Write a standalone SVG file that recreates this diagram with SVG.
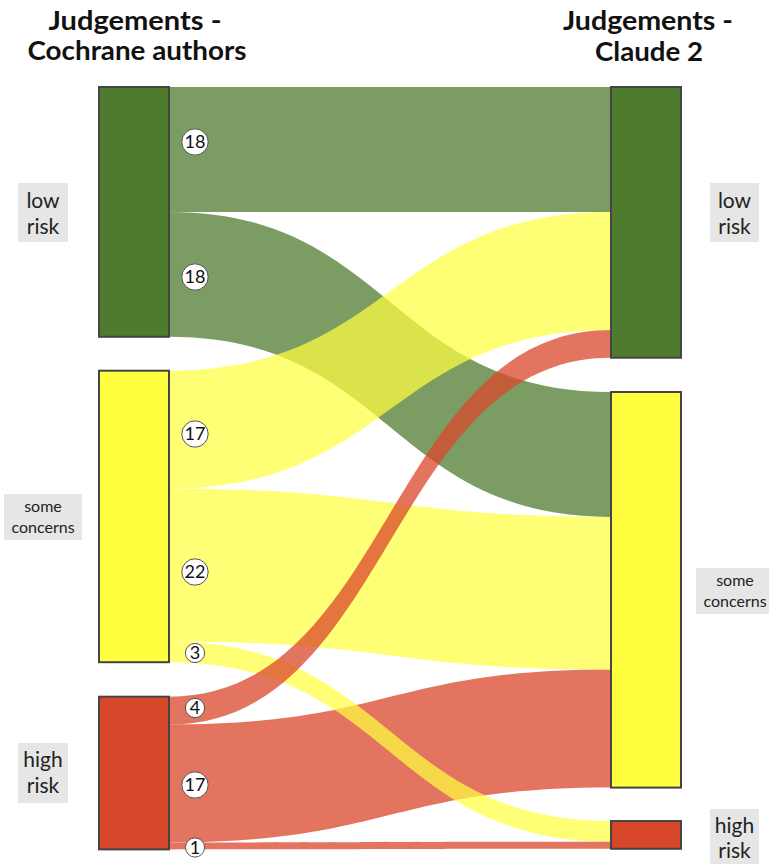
<svg xmlns="http://www.w3.org/2000/svg" width="769" height="864" viewBox="0 0 769 864">
<style>
  .title { font-family: Lato, "Liberation Sans", sans-serif; font-weight: 700; font-size: 27px; fill: #111; text-anchor: middle; }
  .lbl { font-family: Lato, "Liberation Sans", sans-serif; font-size: 21px; fill: #222; text-anchor: middle; }
  .lbls { font-family: Lato, "Liberation Sans", sans-serif; font-size: 16px; fill: #222; text-anchor: middle; }
  .box { fill: #e6e6e6; }
  .node { stroke: #444; stroke-width: 2; }
  .g { fill: #4f7b2f; }
  .y { fill: #ffff40; }
  .r { fill: #d9472b; }
  .lg { fill: #4f7b2f; fill-opacity: 0.75; }
  .ly { fill: #ffff40; fill-opacity: 0.72; }
  .lr { fill: #d9472b; fill-opacity: 0.75; }
  .badge { fill: #fff; stroke: #555; stroke-width: 1; }
  .num { font-family: Lato, "Liberation Sans", sans-serif; font-size: 18px; fill: #111; text-anchor: middle; }
</style>
<rect width="769" height="864" fill="#fff"/>
<g id="titles">
  <text class="title" x="135" y="30" textLength="173" lengthAdjust="spacingAndGlyphs">Judgements -</text>
  <text class="title" x="137" y="60" textLength="219" lengthAdjust="spacingAndGlyphs">Cochrane authors</text>
  <text class="title" x="648" y="30" textLength="170" lengthAdjust="spacingAndGlyphs">Judgements -</text>
  <text class="title" x="649" y="61" textLength="108" lengthAdjust="spacingAndGlyphs">Claude 2</text>
</g>
<g id="connectors">
  <path class="lg" d="M169,87 C390,87 390,87 611,87 L611,211.9 C390,211.9 390,211.9 169,211.9 Z"/>
  <path class="lg" d="M169,211.9 C390,211.9 390,392 611,392 L611,516.9 C390,516.9 390,336.8 169,336.8 Z"/>
  <path class="lr" d="M169,724.5 C390,724.5 390,669.6 611,669.6 L611,787.6 C390,787.6 390,842.5 169,842.5 Z"/>
  <path class="ly" d="M169,370.7 C390,370.7 390,211.9 611,211.9 L611,329.9 C390,329.9 390,488.7 169,488.7 Z"/>
  <path class="ly" d="M169,488.7 C390,488.7 390,516.9 611,516.9 L611,669.6 C390,669.6 390,641.4 169,641.4 Z"/>
  <path class="ly" d="M169,641.4 C390,641.4 390,821 611,821 L611,841.8 C390,841.8 390,662.2 169,662.2 Z"/>
  <path class="lr" d="M169,696.7 C390,696.7 390,329.9 611,329.9 L611,357.7 C390,357.7 390,724.5 169,724.5 Z"/>
  <path class="lr" d="M169,842.5 C390,842.5 390,841.8 611,841.8 L611,848.7 C390,848.7 390,849.4 169,849.4 Z"/>
</g>
<g id="node-left-low">
  <rect class="node g" x="99" y="87" width="70" height="249.8"/>
  <rect class="box" x="18" y="183" width="50" height="59"/>
  <text class="lbl" x="43" y="208">low</text>
  <text class="lbl" x="43" y="234">risk</text>
</g>
<g id="node-left-some">
  <rect class="node y" x="99" y="370.7" width="70" height="291.5"/>
  <rect class="box" x="4" y="494" width="78" height="46"/>
  <text class="lbls" x="43" y="512">some</text>
  <text class="lbls" x="43" y="533">concerns</text>
</g>
<g id="node-left-high">
  <rect class="node r" x="99" y="696.7" width="70" height="152.7"/>
  <rect class="box" x="18" y="743" width="50" height="60"/>
  <text class="lbl" x="43" y="767">high</text>
  <text class="lbl" x="43" y="793">risk</text>
</g>
<g id="node-right-low">
  <rect class="node g" x="611" y="87" width="70" height="270.7"/>
  <rect class="box" x="710" y="183" width="49" height="59"/>
  <text class="lbl" x="734.5" y="208">low</text>
  <text class="lbl" x="734.5" y="234">risk</text>
</g>
<g id="node-right-some">
  <rect class="node y" x="611" y="392" width="70" height="395.6"/>
  <rect class="box" x="696" y="568" width="78" height="46"/>
  <text class="lbls" x="735" y="586">some</text>
  <text class="lbls" x="735" y="607">concerns</text>
</g>
<g id="node-right-high">
  <rect class="node r" x="611" y="821" width="70" height="27.8"/>
  <rect class="box" x="710" y="809" width="49" height="60"/>
  <text class="lbl" x="734.5" y="833">high</text>
  <text class="lbl" x="734.5" y="858">risk</text>
</g>
<g id="flow-labels">
  <circle class="badge" cx="195" cy="142" r="13.2"/><text class="num" x="195" y="148.3">18</text>
  <circle class="badge" cx="195" cy="277" r="13.2"/><text class="num" x="195" y="283.3">18</text>
  <circle class="badge" cx="195" cy="434" r="13.2"/><text class="num" x="195" y="440.3">17</text>
  <circle class="badge" cx="195" cy="572" r="13.2"/><text class="num" x="195" y="578.3">22</text>
  <circle class="badge" cx="195" cy="653" r="9.6"/><text class="num" x="195" y="659.3">3</text>
  <circle class="badge" cx="195" cy="708" r="9.6"/><text class="num" x="195" y="714.3">4</text>
  <circle class="badge" cx="195" cy="785" r="13.2"/><text class="num" x="195" y="791.3">17</text>
  <circle class="badge" cx="195" cy="847.5" r="9.6"/><text class="num" x="195" y="853.8">1</text>
</g>
</svg>
